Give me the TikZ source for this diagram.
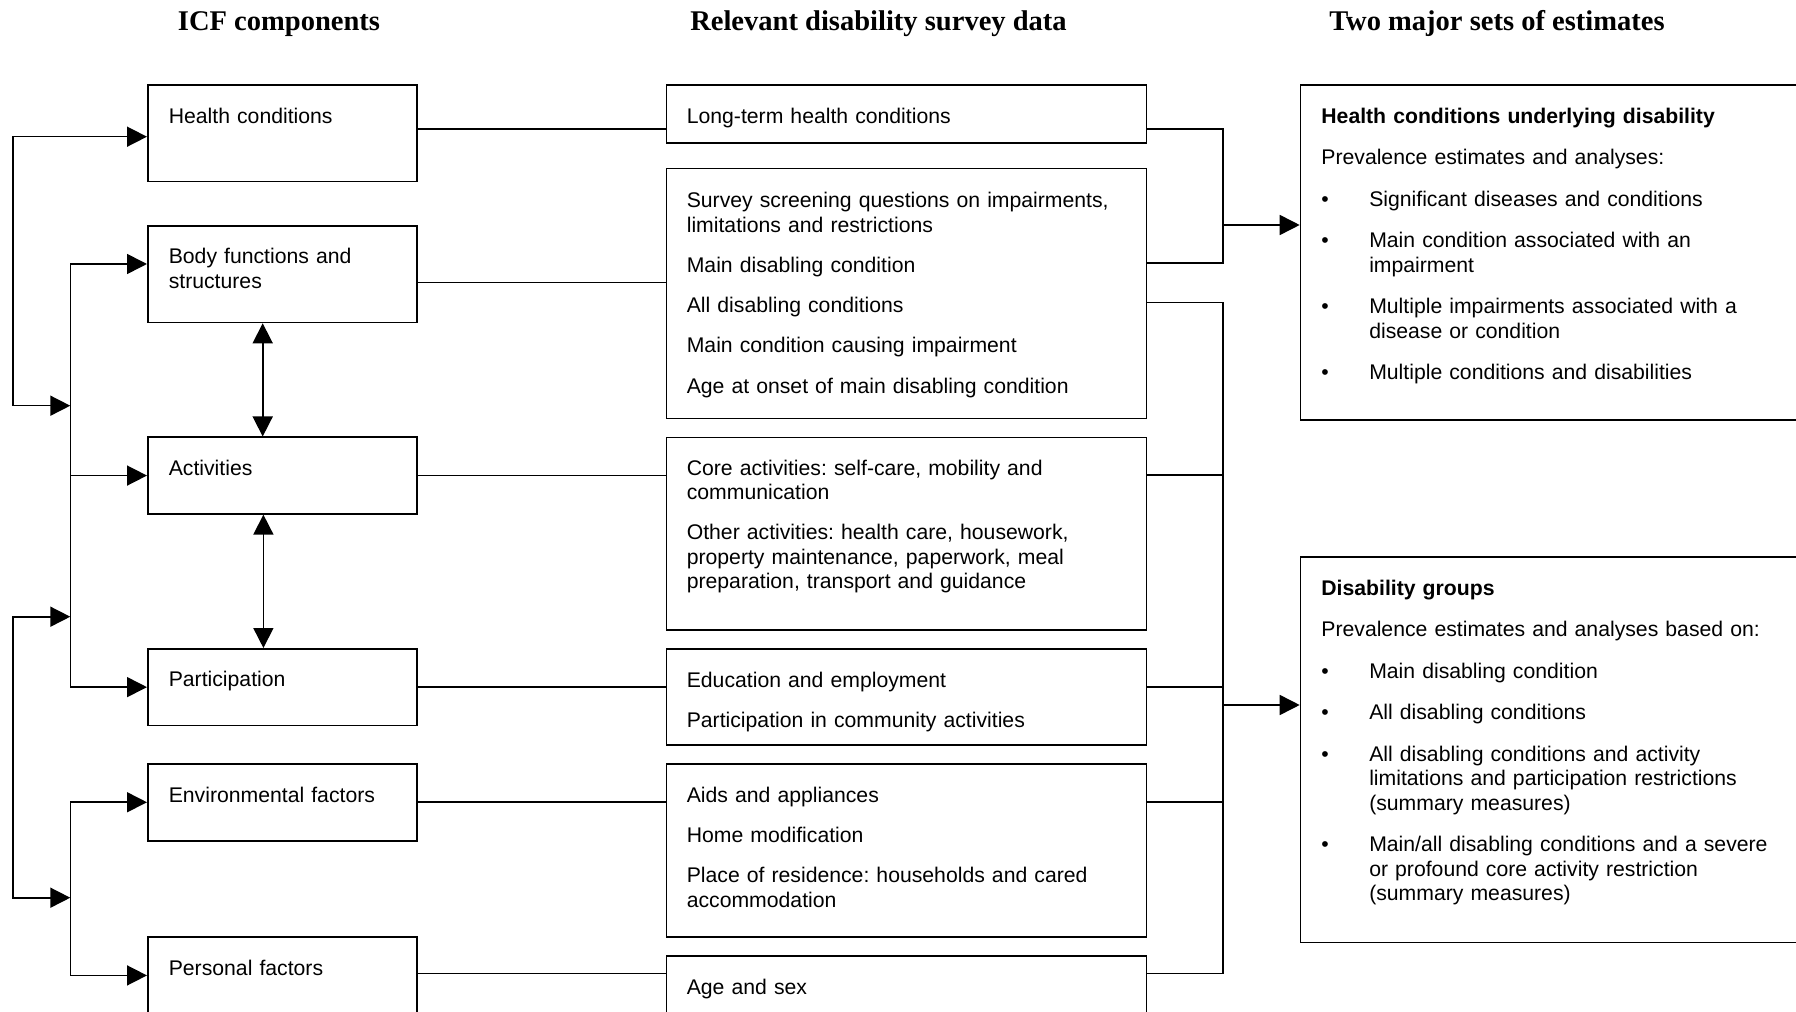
\documentclass[tikz,border=0pt]{standalone}
\usepackage{fontspec}
\setmainfont{Liberation Sans}
\newfontfamily\headfont{Liberation Serif}
\usetikzlibrary{arrows.meta}
\frenchspacing
\tikzset{every picture/.style={line width=1.2pt}}
\tikzset{
  box/.style={draw, anchor=north west, inner sep=0pt},
  txt/.style={anchor=base west, inner sep=0pt, align=left, text width=#1, font=\fontsize{15.9}{18.4}\selectfont},
  txt/.default=190pt,
  hdr/.style={anchor=base, inner sep=0pt, font=\headfont\bfseries\fontsize{21.4}{25}\selectfont},
}
\newcommand{\pgap}{\\[12.7pt]}
\newcommand{\mgap}{\\[11.8pt]}
\newcommand{\bitem}{\makebox[35.9pt][l]{\textbullet}}
\newcommand{\bind}{\hspace*{35.9pt}}

\begin{document}
\begin{tikzpicture}[x=0.75pt,y=0.75pt,yscale=-1,xscale=1,>={Triangle[length=15pt,width=15pt]}]
\useasboundingbox (0,0) rectangle (1796,1012);
\clip (0,0) rectangle (1796,1012);

% Headers
\node [hdr] (hicf) at (279,30.7) {ICF components};
\node [hdr] (hsurv) at (878.5,30.7) {Relevant disability survey data};
\node [hdr] (hest) at (1497,30.7) {Two major sets of estimates};

%Shape: Rectangle -- ICF components
\node [box, minimum width=202pt, minimum height=72.3pt] (hc) at (147,84.3) {};
\node [box, minimum width=202pt, minimum height=72.3pt] (bf) at (147,225.3) {};
\node [box, minimum width=202pt, minimum height=57.4pt] (ac) at (147,436.5) {};
\node [box, minimum width=202pt, minimum height=57.5pt] (pa) at (147,648) {};
\node [box, minimum width=202pt, minimum height=57.7pt] (ef) at (147,763) {};
\node [box, minimum width=202pt, minimum height=57.5pt] (pf) at (147,936.3) {};

%Shape: Rectangle -- survey data
\node [box, minimum width=360pt, minimum height=43.5pt] (lt) at (665.6,84.3) {};
\node [box, minimum width=360pt, minimum height=187.5pt] (ss) at (665.6,167.7) {};
\node [box, minimum width=360pt, minimum height=144.2pt] (ca) at (665.6,436.7) {};
\node [box, minimum width=360pt, minimum height=71.8pt] (ed) at (665.6,648.3) {};
\node [box, minimum width=360pt, minimum height=129.5pt] (ai) at (665.6,763.3) {};
\node [box, minimum width=360pt, minimum height=60pt] (as) at (665.6,955.3) {};

%Shape: Rectangle -- estimates
\node [box, minimum width=390pt, minimum height=251pt] (hu) at (1299.7,84.3) {};
\node [box, minimum width=390pt, minimum height=289.3pt] (dg) at (1299.7,556) {};

% Text Node
\node [txt] (hct) at (168,123.3) {Health conditions};
\node [txt] (bft) at (168,264) {Body functions and\\structures};
\node [txt] (act) at (168,475) {Activities};
\node [txt] (pat) at (168,686.5) {Participation};
\node [txt] (eft) at (168,802) {Environmental factors};
\node [txt] (pft) at (168,975) {Personal factors};

% Text Node
\node [txt=340pt] (ltt) at (686,123.3) {Long-term health conditions};
\node [txt=340pt] (sst) at (686,207.5) {Survey screening questions on impairments,\\limitations and restrictions\mgap Main disabling condition\mgap All disabling conditions\mgap Main condition causing impairment\mgap Age at onset of main disabling condition};
\node [txt=340pt] (cat) at (686,475) {Core activities: self-care, mobility and\\communication\mgap Other activities: health care, housework,\\property maintenance, paperwork, meal\\preparation, transport and guidance};
\node [txt=340pt] (edt) at (686,687) {Education and employment\mgap Participation in community activities};
\node [txt=340pt] (ait) at (686,802.3) {Aids and appliances\mgap Home modification\mgap Place of residence: households and cared\\accommodation};
\node [txt=340pt] (ast) at (686,994) {Age and sex};

% Text Node
\node [txt=350pt] (hut) at (1320.6,123.5) {\textbf{Health conditions underlying disability}\pgap Prevalence estimates and analyses:\pgap \bitem Significant diseases and conditions\pgap \bitem Main condition associated with an\\\bind impairment\pgap \bitem Multiple impairments associated with a\\\bind disease or condition\pgap \bitem Multiple conditions and disabilities};
\node [txt=350pt] (dgt) at (1320.6,595.5) {\textbf{Disability groups}\pgap Prevalence estimates and analyses based on:\pgap \bitem Main disabling condition\pgap \bitem All disabling conditions\pgap \bitem All disabling conditions and activity\\\bind limitations and participation restrictions\\\bind (summary measures)\pgap \bitem Main/all disabling conditions and a severe\\\bind or profound core activity restriction\\\bind (summary measures)};

% Connectors on the left
\coordinate (sp) at (70.3,0);
\coordinate (ou) at (12.7,0);
\draw [<->] (hc.west |- 0,136.7) -| (ou |- 0,405.7) -- (sp |- 0,405.7);
\draw [<->] (pa.west) -| (sp |- 0,264) -- (bf.west |- 0,264);
\draw [->] (sp |- ac.west) -- (ac.west);
\draw [<->] (sp |- 0,616.7) -| (ou |- 0,897.7) -- (sp |- 0,897.7);
\draw [<->] (ef.west) -| (sp |- pf.west) -- (pf.west);
\draw [<->] (262.7,0 |- bf.south) -- (262.7,0 |- ac.north);
\draw [<->] (263.4,0 |- ac.south) -- (263.4,0 |- pa.north);

%Straight Lines
\draw (hc.east |- 0,129.3) -- (lt.west |- 0,129.3);
\draw (bf.east |- 0,282.7) -- (ss.west |- 0,282.7);
\draw (ac.east) -- (ca.west |- ac.east);
\draw (pa.east) -- (ed.west |- pa.east);
\draw (ef.east) -- (ai.west |- ef.east);
\draw (pf.east |- 0,973.3) -- (as.west |- 0,973.3);

% Connectors on the right
\coordinate (br) at (1222.8,0);
\draw (lt.east |- 0,129.3) -| (br |- 0,263.3) -- (ss.east |- 0,263.3);
\draw [->] (br |- 0,225) -- (hu.west |- 0,225);
\draw (ss.east |- 0,302.7) -| (br |- 0,973.3) -- (as.east |- 0,973.3);
\draw (ca.east |- 0,475) -- (br |- 0,475);
\draw (ed.east |- pa.east) -- (br |- pa.east);
\draw (ai.east |- ef.east) -- (br |- ef.east);
\draw [->] (br |- 0,705) -- (dg.west |- 0,705);

\end{tikzpicture}
\end{document}
